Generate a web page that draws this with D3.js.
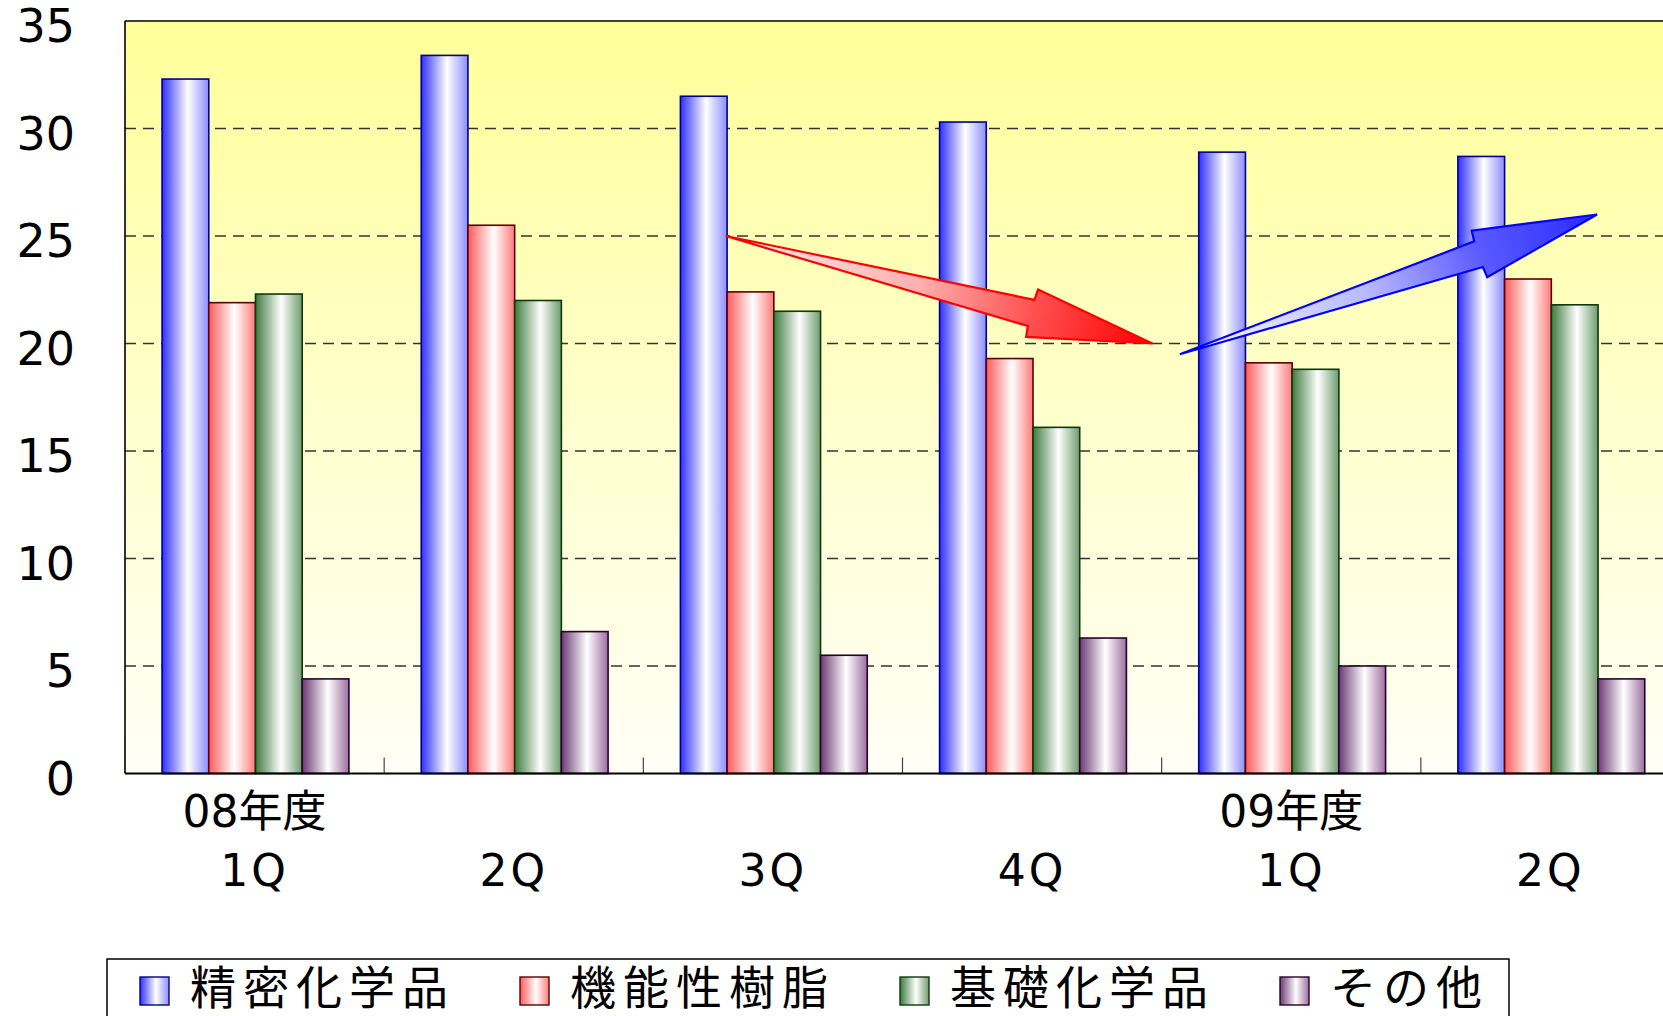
<!DOCTYPE html>
<html>
<head>
<meta charset="utf-8">
<script src="https://cdn.jsdelivr.net/npm/d3@7/dist/d3.min.js"></script>
<style>
  html, body { margin: 0; padding: 0; background: #fff; overflow: hidden; }
  svg { display: block; }
  text { font-family: "DejaVu Sans", "Noto Sans CJK JP", sans-serif; fill: #000; }
</style>
</head>
<body>
<svg id="chart" width="1663" height="1016"></svg>
<script>
// Quarterly sales by segment (billion yen)
const categories = ["08年度 1Q", "2Q", "3Q", "4Q", "09年度 1Q", "2Q "];
const categoryLines = [["08年度", "1Q"], ["", "2Q"], ["", "3Q"], ["", "4Q"], ["09年度", "1Q"], ["", "2Q"]];
const seriesNames = ["精密化学品", "機能性樹脂", "基礎化学品", "その他"];
const fineChemicals = [32.3, 33.4, 31.5, 30.3, 28.9, 28.7];
const functionalResins = [21.9, 25.5, 22.4, 19.3, 19.1, 23.0];
const basicChemicals = [22.3, 22.0, 21.5, 16.1, 18.8, 21.8];
const others = [4.4, 6.6, 5.5, 6.3, 5.0, 4.4];
const seriesValues = [fineChemicals, functionalResins, basicChemicals, others];
const yTicks = [0, 5, 10, 15, 20, 25, 30, 35];
// Trend arrows: [position in category units, value]
const trendArrows = [
  { from: [2.318, 25.0], to: [3.964, 20.0], kind: "down" },
  { from: [4.070, 19.5], to: [5.680, 26.0], kind: "up" }
];

const palette = [
  { dark: "#2f2fff", light: "#8c8cff", stroke: "#00008a" },
  { dark: "#ff5a5a", light: "#ff7a7a", stroke: "#5a0000" },
  { dark: "#3c7a3c", light: "#6f9c6f", stroke: "#0c3a0c" },
  { dark: "#6a3a74", light: "#9c6ea0", stroke: "#2a002a" }
];

const svg = d3.select("#chart");
const margin = { left: 125, top: 21, right: 1680, bottom: 773.5 };

const x0 = d3.scaleBand().domain(categories).range([margin.left, margin.right]).padding(0);
const x1 = d3.scaleBand().domain(seriesNames)
  .range([x0.bandwidth() * 0.143, x0.bandwidth() * 0.864]).padding(0);
const xPos = d3.scaleLinear().domain([0, categories.length]).range([margin.left, margin.right]);
const y = d3.scaleLinear().domain([0, 35]).range([margin.bottom, margin.top]);

const defs = svg.append("defs");

// plot background: pale yellow fading to near white
const bg = defs.append("linearGradient").attr("id", "plotBg")
  .attr("x1", 0).attr("y1", 0).attr("x2", 0).attr("y2", 1);
bg.append("stop").attr("offset", "0%").attr("stop-color", "#ffff99");
bg.append("stop").attr("offset", "55%").attr("stop-color", "#ffffcf");
bg.append("stop").attr("offset", "100%").attr("stop-color", "#fffff6");

// cylinder-like horizontal shading for bars
palette.forEach((p, i) => {
  const g = defs.append("linearGradient").attr("id", "barGrad" + i)
    .attr("x1", 0).attr("y1", 0).attr("x2", 1).attr("y2", 0);
  g.append("stop").attr("offset", "0%").attr("stop-color", p.dark);
  g.append("stop").attr("offset", "55%").attr("stop-color", "#ffffff");
  g.append("stop").attr("offset", "100%").attr("stop-color", p.light);
});

svg.append("rect")
  .attr("x", margin.left).attr("y", margin.top)
  .attr("width", margin.right - margin.left).attr("height", margin.bottom - margin.top)
  .attr("fill", "url(#plotBg)");

// dashed gridlines
svg.append("g").selectAll("line")
  .data(yTicks.filter(t => t > 0 && t < 35))
  .join("line")
  .attr("x1", margin.left).attr("x2", margin.right)
  .attr("y1", d => y(d)).attr("y2", d => y(d))
  .attr("stroke", "#333").attr("stroke-width", 1.3)
  .attr("stroke-dasharray", "11,7");

// top border
svg.append("line")
  .attr("x1", margin.left).attr("x2", margin.right)
  .attr("y1", y(35)).attr("y2", y(35))
  .attr("stroke", "#000").attr("stroke-width", 1.5);

// category separator ticks
svg.append("g").selectAll("line")
  .data(categories.slice(1))
  .join("line")
  .attr("x1", d => x0(d)).attr("x2", d => x0(d))
  .attr("y1", margin.bottom).attr("y2", margin.bottom - 16)
  .attr("stroke", "#444").attr("stroke-width", 1.2);

// bars
const groups = svg.append("g").selectAll("g")
  .data(categories)
  .join("g")
  .attr("transform", d => `translate(${x0(d)},0)`);

groups.selectAll("rect")
  .data((c, ci) => seriesNames.map((s, si) => ({ s, si, v: seriesValues[si][ci] })))
  .join("rect")
  .attr("x", d => x1(d.s))
  .attr("width", x1.bandwidth())
  .attr("y", d => y(d.v))
  .attr("height", d => y(0) - y(d.v))
  .attr("fill", d => `url(#barGrad${d.si})`)
  .attr("stroke", d => palette[d.si].stroke)
  .attr("stroke-width", 1.6);

// axes lines
svg.append("line")
  .attr("x1", margin.left).attr("x2", margin.left)
  .attr("y1", margin.top).attr("y2", margin.bottom)
  .attr("stroke", "#000").attr("stroke-width", 1.6);
svg.append("line")
  .attr("x1", margin.left).attr("x2", margin.right)
  .attr("y1", margin.bottom).attr("y2", margin.bottom)
  .attr("stroke", "#000").attr("stroke-width", 1.8);

// y tick labels
svg.append("g").selectAll("text")
  .data(yTicks)
  .join("text")
  .attr("x", 75)
  .attr("y", d => y(d) + 5)
  .attr("text-anchor", "end")
  .attr("dominant-baseline", "central")
  .style("font-size", "46px")
  .text(d => d);

// category labels (two lines)
const catLabels = svg.append("g").selectAll("g")
  .data(categories)
  .join("g")
  .attr("transform", d => `translate(${x0(d) + x0.bandwidth() / 2},0)`);
catLabels.append("text")
  .attr("y", 811).attr("text-anchor", "middle").attr("dominant-baseline", "central")
  .style("font-size", "44px")
  .text((d, i) => categoryLines[i][0]);
catLabels.append("text")
  .attr("y", 870).attr("text-anchor", "middle").attr("dominant-baseline", "central")
  .style("font-size", "44px").style("letter-spacing", "3px")
  .text((d, i) => categoryLines[i][1]);

// trend arrows
function arrowPath(tail, tip) {
  const dx = tip[0] - tail[0], dy = tip[1] - tail[1];
  const len = Math.hypot(dx, dy);
  const ux = dx / len, uy = dy / len;
  const nx = -uy, ny = ux;
  const a = len - 125, w1 = 13.5, w2 = 24.5;
  const pt = (al, pe) => [tail[0] + ux * al + nx * pe, tail[1] + uy * al + ny * pe];
  return [tail, pt(a, -w1), pt(a + 1, -w2), tip, pt(a + 1, w2), pt(a, w1)];
}
const arrowColors = {
  down: { stops: ["#fff0f0", "#ffb0b0", "#ff5050", "#ff0000"], stroke: "#ff0000" },
  up: { stops: ["#ffffff", "#b8b8ff", "#5a5aff", "#2a2aff"], stroke: "#0000ff" }
};
trendArrows.forEach((a, i) => {
  const tail = [xPos(a.from[0]), y(a.from[1])];
  const tip = [xPos(a.to[0]), y(a.to[1])];
  const c = arrowColors[a.kind];
  const g = defs.append("linearGradient").attr("id", "arrowGrad" + i)
    .attr("gradientUnits", "userSpaceOnUse")
    .attr("x1", tail[0]).attr("y1", tail[1]).attr("x2", tip[0]).attr("y2", tip[1]);
  [0, 0.45, 0.72, 1].forEach((o, k) =>
    g.append("stop").attr("offset", o).attr("stop-color", c.stops[k]));
  svg.append("path")
    .attr("d", d3.line()(arrowPath(tail, tip)) + "Z")
    .attr("fill", `url(#arrowGrad${i})`)
    .attr("stroke", c.stroke).attr("stroke-width", 2.2)
    .attr("stroke-linejoin", "miter");
});

// legend
const legend = svg.append("g");
legend.append("rect")
  .attr("x", 107).attr("y", 959).attr("width", 1402).attr("height", 80)
  .attr("fill", "#fff").attr("stroke", "#000").attr("stroke-width", 1.5);
const items = legend.selectAll("g.item")
  .data(seriesNames)
  .join("g")
  .attr("class", "item")
  .attr("transform", (d, i) => `translate(${140 + i * 380},0)`);
items.append("rect")
  .attr("x", 0).attr("y", 977).attr("width", 29).attr("height", 28)
  .attr("fill", (d, i) => `url(#barGrad${i})`)
  .attr("stroke", (d, i) => palette[i].stroke).attr("stroke-width", 1.4);
items.append("text")
  .attr("x", 50).attr("y", 988)
  .attr("dominant-baseline", "central")
  .style("font-size", "46px").style("letter-spacing", "7px")
  .text(d => d);
</script>
</body>
</html>
